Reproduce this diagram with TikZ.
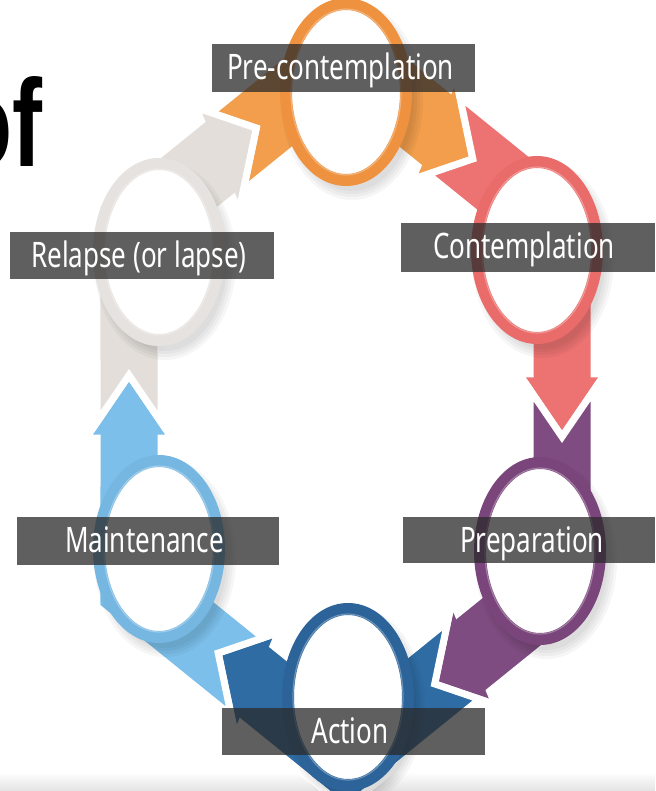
\documentclass[tikz,border=0pt]{standalone}
\usepackage{fontspec}
\setmainfont{Noto Sans}
\newfontfamily\titlefont{Liberation Sans}
\usepackage{graphicx}
\usetikzlibrary{shapes.geometric}
\definecolor{cOr}{HTML}{F29E4C}
\definecolor{cOrR}{HTML}{EE9240}
\definecolor{cRd}{HTML}{EC7371}
\definecolor{cRdR}{HTML}{E96C6A}
\definecolor{cPu}{HTML}{7E4C80}
\definecolor{cPuR}{HTML}{7A457B}
\definecolor{cDb}{HTML}{2F6CA4}
\definecolor{cDbR}{HTML}{2C649A}
\definecolor{cLb}{HTML}{7CBFEA}
\definecolor{cLbR}{HTML}{76B7E2}
\definecolor{cGy}{HTML}{E3DEDA}
\definecolor{cGyR}{HTML}{E6E2DF}
\definecolor{lblc}{HTML}{2A2A2A}
\def\bOx{345.5}\def\bOy{290}\def\bAp{216.5}\def\bYs{1.4}
% band passing a hexagon corner at angle #1, colour #2
\newcommand\bandshape[2]{%
 \pgfmathsetmacro\bdT{#1}%
 \pgfmathsetmacro\bdJix{\bOx+\bAp*cos(\bdT+30)+22*cos(\bdT-60)}%
 \pgfmathsetmacro\bdJiy{\bOy-\bAp*sin(\bdT+30)-22*sin(\bdT-60)}%
 \pgfmathsetmacro\bdNbx{\bdJix-33.5*cos(\bdT-60)}%
 \pgfmathsetmacro\bdNby{\bdJiy+33.5*sin(\bdT-60)}%
 \pgfmathsetmacro\bdAx{\bdNbx+32*cos(\bdT+30)}%
 \pgfmathsetmacro\bdAy{\bdNby-32*sin(\bdT+30)}%
 \pgfmathsetmacro\bdZx{\bdNbx-32*cos(\bdT+30)}%
 \pgfmathsetmacro\bdZy{\bdNby+32*sin(\bdT+30)}%
 \pgfmathsetmacro\bdVox{\bOx+286.95*cos(\bdT)}%
 \pgfmathsetmacro\bdVoy{\bOy-286.95*sin(\bdT)}%
 \pgfmathsetmacro\bdVix{\bOx+213.05*cos(\bdT)}%
 \pgfmathsetmacro\bdViy{\bOy-213.05*sin(\bdT)}%
 \pgfmathsetmacro\bdJox{\bOx+\bAp*cos(\bdT-30)+22*cos(\bdT-120)}%
 \pgfmathsetmacro\bdJoy{\bOy-\bAp*sin(\bdT-30)-22*sin(\bdT-120)}%
 \pgfmathsetmacro\bdBx{\bdJox-45*cos(\bdT-120)}%
 \pgfmathsetmacro\bdBy{\bdJoy+45*sin(\bdT-120)}%
 \pgfmathsetmacro\bdNx{cos(\bdT-30)}%
 \pgfmathsetmacro\bdNy{-sin(\bdT-30)}%
 \fill[#2, draw=white, line width=7pt, line join=miter]
  ({\bdJix},{\bYs*(\bdJiy)}) -- ({\bdAx},{\bYs*(\bdAy)}) -- ({\bdVox},{\bYs*(\bdVoy)})
  -- ({\bdBx+32*\bdNx},{\bYs*(\bdBy+32*\bdNy)}) -- ({\bdBx+43*\bdNx},{\bYs*(\bdBy+43*\bdNy)})
  -- ({\bdJox},{\bYs*(\bdJoy)})
  -- ({\bdBx-43*\bdNx},{\bYs*(\bdBy-43*\bdNy)}) -- ({\bdBx-32*\bdNx},{\bYs*(\bdBy-32*\bdNy)})
  -- ({\bdVix},{\bYs*(\bdViy)}) -- ({\bdZx},{\bYs*(\bdZy)}) -- cycle;
}
\newcommand\lbltext[1]{\scalebox{1}[1.35]{\fontsize{26}{26}\selectfont #1}}
\begin{document}
\begin{tikzpicture}[x=1pt,y=-1pt,
  ring/.style={ellipse, draw=#1, fill=white, line width=12pt, minimum width=120pt, minimum height=176pt, inner sep=0pt},
  lbox/.style={fill=lblc, fill opacity=0.75},
  ltext/.style={anchor=base, text=white, inner sep=0pt}]
\useasboundingbox (0,0) rectangle (655,791);
\clip (0,0) rectangle (655,791);
\shade[top color=white, bottom color=gray!22] (0,772) rectangle (655,791);
% cut title fragment
\node[anchor=base east, inner sep=0pt] (title) at (43,167) {\scalebox{1}[1.38]{\titlefont\fontsize{90}{90}\selectfont\bfseries of}};
% arrow bands
\bandshape{90}{cOr}
\bandshape{30}{cRd}
\bandshape{-30}{cPu}
\bandshape{-90}{cDb}
\bandshape{-150}{cLb}
\bandshape{150}{cGy}
% ring shadows
\foreach \cx/\cy in {346/92, 537/250, 540/551, 348/697, 159/549, 159/252}{
  \foreach \k in {0,3,6,9}{
    \fill[black, opacity=0.035] (\cx+6,\cy+9) ellipse ({62+\k} and {90+\k});
  }
}
% rings
\node[ring=cOrR] (pre) at (346,92) {};
\node[ring=cRdR] (con) at (537,250) {};
\node[ring=cPuR] (prep) at (540,551) {};
\node[ring=cDbR] (act) at (348,697) {};
\node[ring=cLbR] (main) at (159,549) {};
\node[ring=cGyR] (rel) at (159,252) {};
\foreach \n in {pre,con,prep,act,main,rel}{
  \draw[white, opacity=0.3, line width=1.2pt] (\n.center) ellipse (55 and 83);
}
% labels
\fill[lbox] (212,44) rectangle (475,92);
\fill[lbox] (401,223) rectangle (655,272);
\fill[lbox] (10,232) rectangle (274,279);
\fill[lbox] (17,517) rectangle (279,565);
\fill[lbox] (403,517) rectangle (655,563);
\fill[lbox] (222,708) rectangle (485,755);
\node[ltext] (tpre) at (340.5,80) {\lbltext{Pre-contemplation}};
\node[ltext] (tcon) at (524,258.5) {\lbltext{Contemplation}};
\node[ltext] (trel) at (139,267.5) {\lbltext{Relapse (or lapse)}};
\node[ltext] (tmain) at (144.5,552.5) {\lbltext{Maintenance}};
\node[ltext] (tprep) at (532,552.5) {\lbltext{Preparation}};
\node[ltext] (tact) at (350,743) {\lbltext{Action}};
\end{tikzpicture}
\end{document}
